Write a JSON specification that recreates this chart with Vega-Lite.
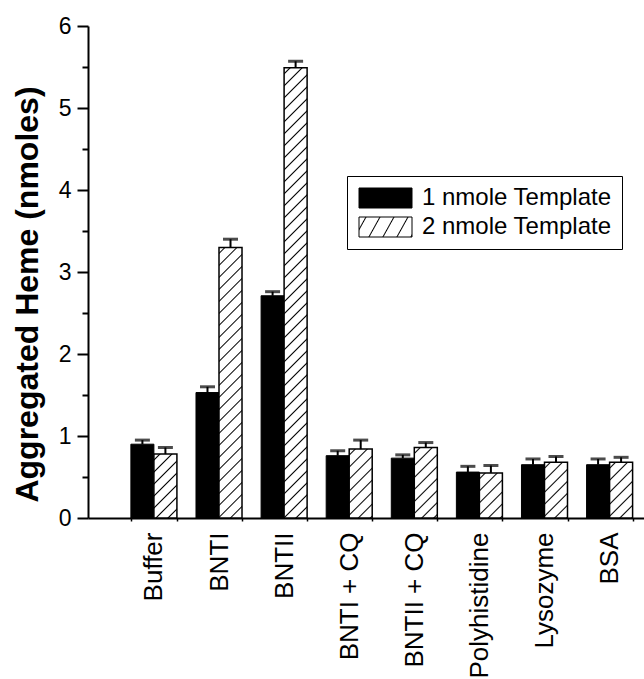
{
  "$schema": "https://vega.github.io/schema/vega-lite/v6.json",
  "autosize": {"type": "none"},
  "padding": {"left": 88, "top": 26, "right": 0, "bottom": 161},
  "width": 556,
  "height": 492,
  "config": {
    "font": "Liberation Sans",
    "view": {"stroke": null},
    "axis": {"domainColor": "black", "tickColor": "black", "labelColor": "black", "titleColor": "black", "grid": false}
  },
  "params": [
    {
      "name": "legendHatch",
      "value": {
        "gradient": "linear",
        "x1": 0, "y1": 0, "x2": 1.265, "y2": 0.265,
        "stops": [
          {"offset": 0.084, "color": "#fff"}, {"offset": 0.1, "color": "#000"}, {"offset": 0.116, "color": "#fff"},
          {"offset": 0.284, "color": "#fff"}, {"offset": 0.3, "color": "#000"}, {"offset": 0.316, "color": "#fff"},
          {"offset": 0.484, "color": "#fff"}, {"offset": 0.5, "color": "#000"}, {"offset": 0.516, "color": "#fff"},
          {"offset": 0.684, "color": "#fff"}, {"offset": 0.7, "color": "#000"}, {"offset": 0.716, "color": "#fff"},
          {"offset": 0.884, "color": "#fff"}, {"offset": 0.9, "color": "#000"}, {"offset": 0.916, "color": "#fff"}
        ]
      }
    },
    {
      "name": "hatchStops",
      "value": [
        {"offset": 0.0095, "color": "#fff"}, {"offset": 0.0125, "color": "#000"}, {"offset": 0.0155, "color": "#fff"},
        {"offset": 0.0345, "color": "#fff"}, {"offset": 0.0375, "color": "#000"}, {"offset": 0.0405, "color": "#fff"},
        {"offset": 0.0595, "color": "#fff"}, {"offset": 0.0625, "color": "#000"}, {"offset": 0.0655, "color": "#fff"},
        {"offset": 0.0845, "color": "#fff"}, {"offset": 0.0875, "color": "#000"}, {"offset": 0.0905, "color": "#fff"},
        {"offset": 0.1095, "color": "#fff"}, {"offset": 0.1125, "color": "#000"}, {"offset": 0.1155, "color": "#fff"},
        {"offset": 0.1345, "color": "#fff"}, {"offset": 0.1375, "color": "#000"}, {"offset": 0.1405, "color": "#fff"},
        {"offset": 0.1595, "color": "#fff"}, {"offset": 0.1625, "color": "#000"}, {"offset": 0.1655, "color": "#fff"},
        {"offset": 0.1845, "color": "#fff"}, {"offset": 0.1875, "color": "#000"}, {"offset": 0.1905, "color": "#fff"},
        {"offset": 0.2095, "color": "#fff"}, {"offset": 0.2125, "color": "#000"}, {"offset": 0.2155, "color": "#fff"},
        {"offset": 0.2345, "color": "#fff"}, {"offset": 0.2375, "color": "#000"}, {"offset": 0.2405, "color": "#fff"},
        {"offset": 0.2595, "color": "#fff"}, {"offset": 0.2625, "color": "#000"}, {"offset": 0.2655, "color": "#fff"},
        {"offset": 0.2845, "color": "#fff"}, {"offset": 0.2875, "color": "#000"}, {"offset": 0.2905, "color": "#fff"},
        {"offset": 0.3095, "color": "#fff"}, {"offset": 0.3125, "color": "#000"}, {"offset": 0.3155, "color": "#fff"},
        {"offset": 0.3345, "color": "#fff"}, {"offset": 0.3375, "color": "#000"}, {"offset": 0.3405, "color": "#fff"},
        {"offset": 0.3595, "color": "#fff"}, {"offset": 0.3625, "color": "#000"}, {"offset": 0.3655, "color": "#fff"},
        {"offset": 0.3845, "color": "#fff"}, {"offset": 0.3875, "color": "#000"}, {"offset": 0.3905, "color": "#fff"},
        {"offset": 0.4095, "color": "#fff"}, {"offset": 0.4125, "color": "#000"}, {"offset": 0.4155, "color": "#fff"},
        {"offset": 0.4345, "color": "#fff"}, {"offset": 0.4375, "color": "#000"}, {"offset": 0.4405, "color": "#fff"},
        {"offset": 0.4595, "color": "#fff"}, {"offset": 0.4625, "color": "#000"}, {"offset": 0.4655, "color": "#fff"},
        {"offset": 0.4845, "color": "#fff"}, {"offset": 0.4875, "color": "#000"}, {"offset": 0.4905, "color": "#fff"},
        {"offset": 0.5095, "color": "#fff"}, {"offset": 0.5125, "color": "#000"}, {"offset": 0.5155, "color": "#fff"},
        {"offset": 0.5345, "color": "#fff"}, {"offset": 0.5375, "color": "#000"}, {"offset": 0.5405, "color": "#fff"},
        {"offset": 0.5595, "color": "#fff"}, {"offset": 0.5625, "color": "#000"}, {"offset": 0.5655, "color": "#fff"},
        {"offset": 0.5845, "color": "#fff"}, {"offset": 0.5875, "color": "#000"}, {"offset": 0.5905, "color": "#fff"},
        {"offset": 0.6095, "color": "#fff"}, {"offset": 0.6125, "color": "#000"}, {"offset": 0.6155, "color": "#fff"},
        {"offset": 0.6345, "color": "#fff"}, {"offset": 0.6375, "color": "#000"}, {"offset": 0.6405, "color": "#fff"},
        {"offset": 0.6595, "color": "#fff"}, {"offset": 0.6625, "color": "#000"}, {"offset": 0.6655, "color": "#fff"},
        {"offset": 0.6845, "color": "#fff"}, {"offset": 0.6875, "color": "#000"}, {"offset": 0.6905, "color": "#fff"},
        {"offset": 0.7095, "color": "#fff"}, {"offset": 0.7125, "color": "#000"}, {"offset": 0.7155, "color": "#fff"},
        {"offset": 0.7345, "color": "#fff"}, {"offset": 0.7375, "color": "#000"}, {"offset": 0.7405, "color": "#fff"},
        {"offset": 0.7595, "color": "#fff"}, {"offset": 0.7625, "color": "#000"}, {"offset": 0.7655, "color": "#fff"},
        {"offset": 0.7845, "color": "#fff"}, {"offset": 0.7875, "color": "#000"}, {"offset": 0.7905, "color": "#fff"},
        {"offset": 0.8095, "color": "#fff"}, {"offset": 0.8125, "color": "#000"}, {"offset": 0.8155, "color": "#fff"},
        {"offset": 0.8345, "color": "#fff"}, {"offset": 0.8375, "color": "#000"}, {"offset": 0.8405, "color": "#fff"},
        {"offset": 0.8595, "color": "#fff"}, {"offset": 0.8625, "color": "#000"}, {"offset": 0.8655, "color": "#fff"},
        {"offset": 0.8845, "color": "#fff"}, {"offset": 0.8875, "color": "#000"}, {"offset": 0.8905, "color": "#fff"},
        {"offset": 0.9095, "color": "#fff"}, {"offset": 0.9125, "color": "#000"}, {"offset": 0.9155, "color": "#fff"},
        {"offset": 0.9345, "color": "#fff"}, {"offset": 0.9375, "color": "#000"}, {"offset": 0.9405, "color": "#fff"},
        {"offset": 0.9595, "color": "#fff"}, {"offset": 0.9625, "color": "#000"}, {"offset": 0.9655, "color": "#fff"},
        {"offset": 0.9845, "color": "#fff"}, {"offset": 0.9875, "color": "#000"}, {"offset": 0.9905, "color": "#fff"}
      ]
    }
  ],
  "data": {
    "values": [
      {"sample": "Buffer", "template": "1 nmole Template", "value": 0.90, "upper": 0.95},
      {"sample": "Buffer", "template": "2 nmole Template", "value": 0.78, "upper": 0.86},
      {"sample": "BNTI", "template": "1 nmole Template", "value": 1.53, "upper": 1.60},
      {"sample": "BNTI", "template": "2 nmole Template", "value": 3.30, "upper": 3.40},
      {"sample": "BNTII", "template": "1 nmole Template", "value": 2.71, "upper": 2.76},
      {"sample": "BNTII", "template": "2 nmole Template", "value": 5.49, "upper": 5.57},
      {"sample": "BNTI + CQ", "template": "1 nmole Template", "value": 0.76, "upper": 0.82},
      {"sample": "BNTI + CQ", "template": "2 nmole Template", "value": 0.84, "upper": 0.95},
      {"sample": "BNTII + CQ", "template": "1 nmole Template", "value": 0.73, "upper": 0.77},
      {"sample": "BNTII + CQ", "template": "2 nmole Template", "value": 0.86, "upper": 0.92},
      {"sample": "Polyhistidine", "template": "1 nmole Template", "value": 0.56, "upper": 0.63},
      {"sample": "Polyhistidine", "template": "2 nmole Template", "value": 0.55, "upper": 0.64},
      {"sample": "Lysozyme", "template": "1 nmole Template", "value": 0.65, "upper": 0.72},
      {"sample": "Lysozyme", "template": "2 nmole Template", "value": 0.68, "upper": 0.75},
      {"sample": "BSA", "template": "1 nmole Template", "value": 0.65, "upper": 0.72},
      {"sample": "BSA", "template": "2 nmole Template", "value": 0.68, "upper": 0.74}
    ]
  },
  "encoding": {
    "x": {
      "field": "sample",
      "type": "nominal",
      "sort": null,
      "scale": {"paddingInner": 0.293, "paddingOuter": 0.417, "align": 0.79},
      "axis": {
        "title": null,
        "labelAngle": -90,
        "labelAlign": "right",
        "labelBaseline": "middle",
        "labelFontSize": 26,
        "labelPadding": 11,
        "tickBand": "extent",
        "tickSize": 3,
        "tickWidth": 1.5,
        "domainWidth": 2
      }
    },
    "xOffset": {
      "field": "template",
      "type": "nominal",
      "sort": null,
      "scale": {"domain": ["1 nmole Template", "2 nmole Template"], "paddingInner": 0, "paddingOuter": 0}
    },
    "y": {
      "field": "value",
      "type": "quantitative",
      "stack": null,
      "title": "Aggregated Heme (nmoles)",
      "scale": {"domain": [0, 6], "nice": false},
      "axis": {
        "values": [0, 0.5, 1, 1.5, 2, 2.5, 3, 3.5, 4, 4.5, 5, 5.5, 6],
        "labelExpr": "datum.value % 1 ? '' : '' + datum.value",
        "labelOverlap": false,
        "labelFontSize": 23,
        "labelPadding": 6,
        "tickSize": {"condition": {"test": "datum.value % 1 === 0", "value": 11}, "value": 6},
        "tickWidth": 2,
        "domainWidth": 2,
        "titleFontSize": 32,
        "titleFontWeight": "bold",
        "titleAngle": 270,
        "titleAlign": "center",
        "titleBaseline": "alphabetic",
        "titleX": -51,
        "titleY": 268
      }
    }
  },
  "layer": [
    {
      "transform": [{"filter": "datum.template === '1 nmole Template'"}],
      "mark": {"type": "bar", "stroke": "black", "strokeWidth": 1},
      "encoding": {
        "fill": {
          "field": "template",
          "type": "nominal",
          "sort": null,
          "scale": {
            "domain": ["1 nmole Template", "2 nmole Template"],
            "range": ["black", {"expr": "legendHatch"}]
          },
          "legend": {
            "title": null,
            "orient": "none",
            "legendX": 259,
            "legendY": 150,
            "direction": "vertical",
            "labelFontSize": 24,
            "labelColor": "black",
            "labelOffset": 41,
            "labelLimit": 400,
            "symbolType": "M-1,-1H4.3V1H-1Z",
            "symbolSize": 400,
            "symbolStrokeColor": "black",
            "symbolStrokeWidth": 1,
            "symbolOpacity": 1,
            "rowPadding": 5,
            "padding": 10,
            "strokeColor": "black",
            "fillColor": "white"
          }
        }
      }
    },
    {
      "transform": [
        {"filter": "datum.template === '2 nmole Template'"},
        {
          "calculate": "{gradient: 'linear', x1: 0, y1: 0, x2: 480 * 23 / (529 + pow(datum.value * 82, 2)), y2: 480 * datum.value * 82 / (529 + pow(datum.value * 82, 2)), stops: hatchStops}",
          "as": "hatch"
        }
      ],
      "mark": {"type": "bar", "stroke": "black", "strokeWidth": 1.5},
      "encoding": {
        "fill": {"field": "hatch", "type": "nominal", "scale": null, "legend": null}
      }
    },
    {
      "mark": {"type": "rule", "color": "black", "strokeWidth": 2},
      "encoding": {"y2": {"field": "upper"}}
    },
    {
      "mark": {"type": "tick", "color": "black", "thickness": 3, "size": 15},
      "encoding": {
        "y": {"field": "upper", "type": "quantitative", "title": "Aggregated Heme (nmoles)"}
      }
    }
  ]
}
